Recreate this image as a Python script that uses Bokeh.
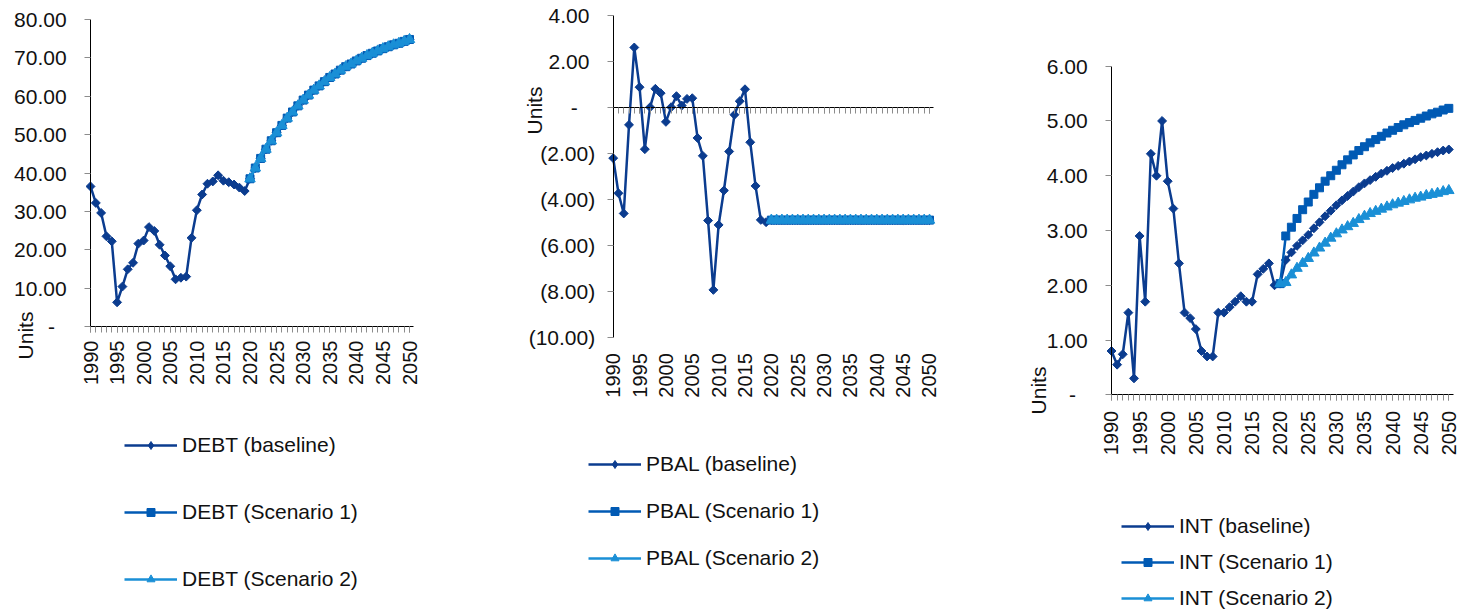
import math
from bokeh.plotting import figure
from bokeh.models import (Range1d, FixedTicker, LinearAxis, Legend, LegendItem,
                          Label, CustomJSTickFormatter)
from bokeh.layouts import row
from bokeh.embed import file_html
from bokeh.resources import INLINE

# ---------------- data ----------------
hist_years = list(range(1990, 2020))
proj_years = list(range(2020, 2051))
all_years = hist_years + proj_years
label_years = list(range(1990, 2051, 5))
year_labels = [str(y) for y in label_years]

debt_baseline = [36.5, 32.2, 29.6, 23.5, 22.2, 6.3, 10.4, 14.9, 16.6, 21.6,
                 22.4, 25.9, 24.9, 21.3, 18.5, 15.7, 12.3, 12.7, 13.0, 23.1,
                 30.3, 34.4, 37.2, 37.8, 39.4, 38.0, 37.6, 37.0, 36.2, 35.3,
                 38.5, 41.3, 43.8, 46.2, 48.4, 50.5, 52.4, 54.3, 55.9, 57.5,
                 59.0, 60.3, 61.6, 62.7, 63.8, 64.9, 65.8, 66.8, 67.7, 68.4,
                 69.2, 69.9, 70.6, 71.2, 71.8, 72.4, 72.9, 73.4, 73.8, 74.3, 74.8]
debt_scenario1 = [38.5, 41.3, 43.8, 46.2, 48.4, 50.5, 52.4, 54.3, 55.9, 57.5,
                  59.0, 60.3, 61.6, 62.7, 63.8, 64.9, 65.8, 66.8, 67.7, 68.4,
                  69.2, 69.9, 70.6, 71.2, 71.8, 72.4, 72.9, 73.4, 73.8, 74.3, 74.8]
debt_scenario2 = [38.5, 41.3, 43.8, 46.2, 48.4, 50.5, 52.4, 54.3, 55.9, 57.5,
                  59.0, 60.3, 61.6, 62.7, 63.8, 64.9, 65.8, 66.8, 67.7, 68.4,
                  69.2, 69.9, 70.6, 71.2, 71.8, 72.4, 72.9, 73.4, 73.8, 74.3, 74.8]

pbal_baseline = [-2.20, -3.73, -4.61, -0.75, 2.62, 0.89, -1.81, 0.02, 0.82, 0.63,
                 -0.62, 0.02, 0.50, 0.09, 0.38, 0.41, -1.32, -2.10, -4.92, -7.94,
                 -5.11, -3.61, -1.91, -0.31, 0.28, 0.80, -1.51, -3.41, -4.89, -4.99,
                 -4.90, -4.90, -4.90, -4.90, -4.90, -4.90, -4.90, -4.90, -4.90, -4.90,
                 -4.90, -4.90, -4.90, -4.90, -4.90, -4.90, -4.90, -4.90, -4.90, -4.90,
                 -4.90, -4.90, -4.90, -4.90, -4.90, -4.90, -4.90, -4.90, -4.90, -4.90, -4.90]
pbal_scenario1 = [-4.90, -4.90, -4.90, -4.90, -4.90, -4.90, -4.90, -4.90, -4.90, -4.90,
                  -4.90, -4.90, -4.90, -4.90, -4.90, -4.90, -4.90, -4.90, -4.90, -4.90,
                  -4.90, -4.90, -4.90, -4.90, -4.90, -4.90, -4.90, -4.90, -4.90, -4.90, -4.90]
pbal_scenario2 = [-4.90, -4.90, -4.90, -4.90, -4.90, -4.90, -4.90, -4.90, -4.90, -4.90,
                  -4.90, -4.90, -4.90, -4.90, -4.90, -4.90, -4.90, -4.90, -4.90, -4.90,
                  -4.90, -4.90, -4.90, -4.90, -4.90, -4.90, -4.90, -4.90, -4.90, -4.90, -4.90]

int_baseline = [0.80, 0.55, 0.74, 1.50, 0.30, 2.90, 1.70, 4.40, 4.00, 5.00,
                3.90, 3.40, 2.40, 1.50, 1.40, 1.20, 0.80, 0.70, 0.70, 1.50,
                1.50, 1.60, 1.70, 1.80, 1.70, 1.70, 2.20, 2.30, 2.40, 2.00,
                2.03, 2.46, 2.60, 2.72, 2.82, 2.92, 3.04, 3.15, 3.26, 3.36,
                3.46, 3.55, 3.63, 3.71, 3.79, 3.86, 3.92, 3.98, 4.04, 4.09,
                4.14, 4.18, 4.22, 4.26, 4.30, 4.34, 4.37, 4.40, 4.43, 4.46, 4.48]
int_scenario1 = [2.03, 2.90, 3.06, 3.22, 3.38, 3.52, 3.66, 3.78, 3.90, 4.00,
                 4.10, 4.20, 4.29, 4.38, 4.46, 4.53, 4.60, 4.66, 4.72, 4.78,
                 4.83, 4.88, 4.93, 4.97, 5.01, 5.05, 5.09, 5.13, 5.16, 5.20, 5.23]
int_scenario2 = [2.03, 2.05, 2.19, 2.31, 2.40, 2.49, 2.59, 2.68, 2.77, 2.86,
                 2.94, 3.01, 3.07, 3.13, 3.20, 3.26, 3.31, 3.35, 3.39, 3.43,
                 3.47, 3.50, 3.53, 3.56, 3.59, 3.61, 3.64, 3.66, 3.68, 3.71, 3.73]

debt_y_ticks = [0, 10, 20, 30, 40, 50, 60, 70, 80]
debt_y_labels = ["-", "10.00", "20.00", "30.00", "40.00", "50.00", "60.00", "70.00", "80.00"]
pbal_y_ticks = [-10, -8, -6, -4, -2, 0, 2, 4]
pbal_y_labels = ["(10.00)", "(8.00)", "(6.00)", "(4.00)", "(2.00)", "-", "2.00", "4.00"]
int_y_ticks = [0, 1, 2, 3, 4, 5, 6]
int_y_labels = ["-", "1.00", "2.00", "3.00", "4.00", "5.00", "6.00"]

# ---------------- style ----------------
FONT = "Liberation Sans"
TXT = "#111111"
AXC = "#000000"
TICKC = "#8c8c8c"
C_BASE = "#0B3C8F"
C_S1 = "#005AB4"
C_S2 = "#1A8FD6"
CANVAS_TOP = 0
H = 613
NB = "\u00a0"


def pad(lbl):
    if lbl == "-":
        return lbl + NB * 3
    if lbl.endswith(")"):
        return lbl
    return lbl + NB


def fmt(tick_values, tick_texts):
    return CustomJSTickFormatter(
        args=dict(tv=tick_values, tl=tick_texts),
        code="const i = tv.findIndex(t => Math.abs(t - tick) < 1e-6); return i >= 0 ? tl[i] : '';")


def style(ax):
    ax.axis_line_color = AXC
    ax.axis_line_width = 1
    ax.major_tick_line_color = TICKC
    ax.minor_tick_line_color = TICKC
    ax.major_tick_in = 0
    ax.minor_tick_in = 0
    ax.major_tick_out = 6
    ax.minor_tick_out = 6
    ax.major_label_text_font = FONT
    ax.major_label_text_color = TXT


def build(prefix, base, s1, s2, y_ticks, y_labels, canvas_left, w,
          x_px, y_px, y_vals, units_xy, leg_xy, leg_spacing, x_standoff, zero_axis=False):
    # frame covers the whole canvas; the scales are set so that the
    # plot area lands at the requested pixel positions
    kx = (x_px[1] - x_px[0]) / 60.0
    x0 = 1990 - (x_px[0] - canvas_left) / kx
    x1 = 1990 + (canvas_left + w - x_px[0]) / kx
    ky = (y_px[1] - y_px[0]) / (y_vals[0] - y_vals[1])
    y1 = y_vals[0] + (y_px[0] - CANVAS_TOP) / ky
    y0 = y_vals[0] - (CANVAS_TOP + H - y_px[0]) / ky

    p = figure(width=w, height=H, x_range=Range1d(x0, x1), y_range=Range1d(y0, y1),
               x_axis_type=None, y_axis_type=None, output_backend="svg",
               toolbar_location=None, min_border=0, min_border_left=0,
               min_border_right=0, min_border_top=0, min_border_bottom=0)
    p.outline_line_color = None
    p.background_fill_color = "white"
    p.border_fill_color = "white"

    ymin, ymax = min(y_ticks), max(y_ticks)
    yax = LinearAxis(ticker=FixedTicker(ticks=y_ticks),
                     formatter=fmt(y_ticks, [pad(l) for l in y_labels]),
                     fixed_location=1990, bounds=(ymin, ymax))
    style(yax)
    yax.minor_tick_out = 0
    yax.major_label_standoff = 12
    yax.major_label_text_font_size = "21px"
    p.add_layout(yax, "left")

    xt = FixedTicker(ticks=label_years, minor_ticks=all_years)
    xax = LinearAxis(ticker=xt, formatter=fmt(label_years, year_labels),
                     major_label_orientation=math.pi / 2, bounds=(1990, 2050.75),
                     fixed_location=ymin)
    style(xax)
    xax.major_label_text_font_size = "20px"
    xax.major_label_standoff = x_standoff
    if zero_axis:
        xax.axis_line_color = None
        xax.major_tick_line_color = None
        xax.minor_tick_line_color = None
        xax.major_tick_out = 0
        xax.minor_tick_out = 0
        p.add_layout(xax, "below")
        zax = LinearAxis(ticker=xt, formatter=CustomJSTickFormatter(code="return '';"),
                         fixed_location=0, bounds=(1990, 2050.75))
        style(zax)
        p.add_layout(zax, "below")
    else:
        p.add_layout(xax, "below")

    rb_l = p.line(all_years, base, line_color=C_BASE, line_width=2.5)
    p.scatter(all_years, base, marker="square", angle=math.pi / 4, size=6.3,
              fill_color=C_BASE, line_color=C_BASE)
    # diamond used only for the legend key
    rb_key = p.scatter(all_years, base, marker="diamond", size=8,
                       fill_color=C_BASE, line_color=C_BASE, visible=False)
    r1_l = p.line(proj_years, s1, line_color=C_S1, line_width=2.5)
    r1_m = p.scatter(proj_years, s1, marker="square", size=8,
                     fill_color=C_S1, line_color=C_S1)
    r2_l = p.line(proj_years, s2, line_color=C_S2, line_width=2.5)
    r2_m = p.scatter(proj_years, s2, marker="triangle", size=10.5,
                     fill_color=C_S2, line_color=C_S2)

    leg = Legend(items=[LegendItem(label=f"{prefix} (baseline)", renderers=[rb_l, rb_key]),
                        LegendItem(label=f"{prefix} (Scenario 1)", renderers=[r1_l, r1_m]),
                        LegendItem(label=f"{prefix} (Scenario 2)", renderers=[r2_l, r2_m])],
                 location=leg_xy, orientation="vertical", spacing=leg_spacing,
                 padding=0, margin=0, border_line_color=None, background_fill_alpha=0,
                 glyph_width=53, glyph_height=20, label_height=26, label_standoff=5,
                 label_text_font=FONT, label_text_font_size="21px", label_text_color=TXT)
    p.add_layout(leg)

    p.add_layout(Label(x=units_xy[0], y=units_xy[1], x_units="screen", y_units="screen",
                       text="Units", angle=math.pi / 2, text_align="center",
                       text_baseline="middle", text_font=FONT, text_font_size="21px",
                       text_color=TXT))
    return p


p1 = build("DEBT", debt_baseline, debt_scenario1, debt_scenario2,
           debt_y_ticks, debt_y_labels, canvas_left=0, w=466,
           x_px=(90, 409), y_px=(19, 326), y_vals=(80, 0),
           units_xy=(25, 278), leg_xy=(124, 21.5), leg_spacing=41, x_standoff=8)
p2 = build("PBAL", pbal_baseline, pbal_scenario1, pbal_scenario2,
           pbal_y_ticks, pbal_y_labels, canvas_left=466, w=530,
           x_px=(612.7, 929), y_px=(15.3, 336.7), y_vals=(4, -10),
           units_xy=(68, 503), leg_xy=(122, 42), leg_spacing=21, x_standoff=16,
           zero_axis=True)
p3 = build("INT", int_baseline, int_scenario1, int_scenario2,
           int_y_ticks, int_y_labels, canvas_left=996, w=464,
           x_px=(1111, 1448.3), y_px=(65.7, 394.3), y_vals=(6, 0),
           units_xy=(42, 223), leg_xy=(125, 2.3), leg_spacing=10, x_standoff=10)

layout = row(p1, p2, p3, spacing=0)
open("out.html", "w").write(file_html(layout, INLINE))
